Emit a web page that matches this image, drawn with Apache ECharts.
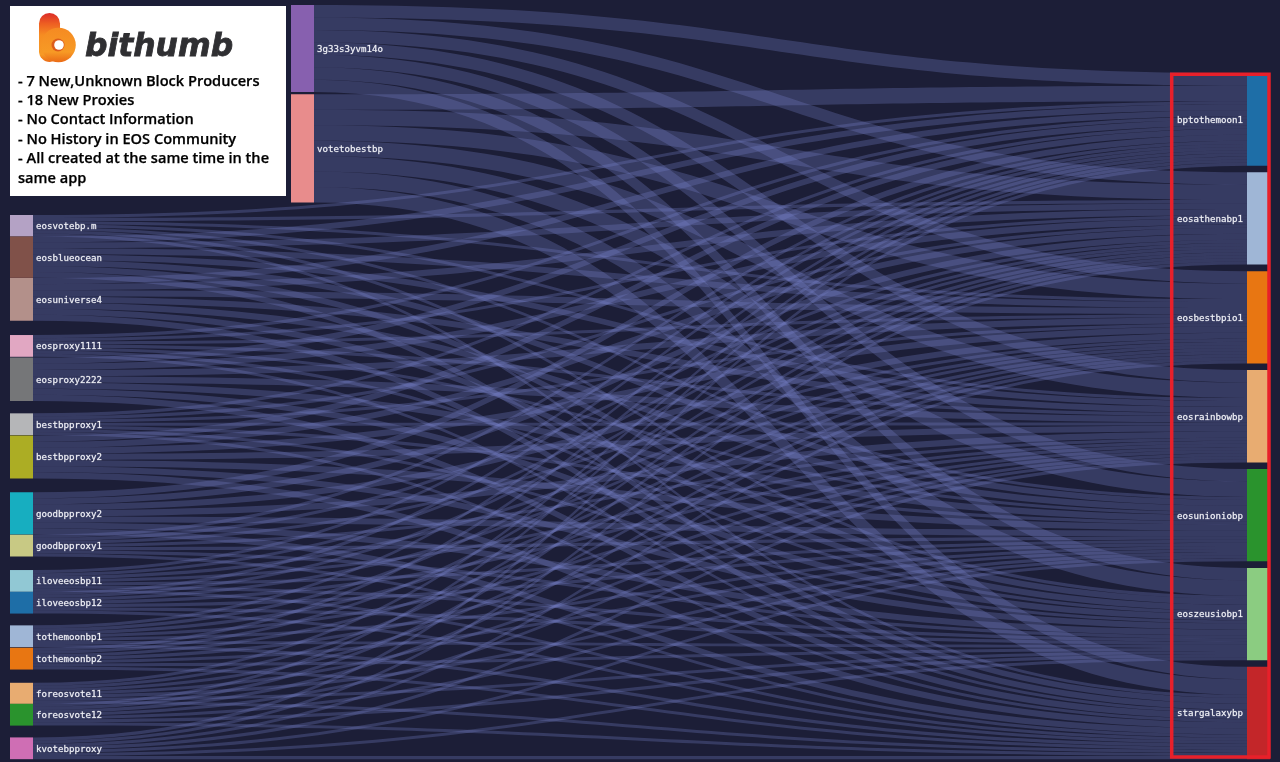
<!DOCTYPE html>
<html><head><meta charset="utf-8">
<style>html,body{margin:0;padding:0;background:#1c1e37}#c{width:1280px;height:762px}</style>
<script src="https://cdn.jsdelivr.net/npm/echarts@6/dist/echarts.min.js"></script>
</head><body><div id="c"></div>
<script>
// Proxies / voters and the stake each gives to every producer
const sources = ['3g33s3yvm14o','votetobestbp','eosvotebp.m','eosblueocean','eosuniverse4','eosproxy1111','eosproxy2222','bestbpproxy1','bestbpproxy2','goodbpproxy2','goodbpproxy1','iloveeosbp11','iloveeosbp12','tothemoonbp1','tothemoonbp2','foreosvote11','foreosvote12','kvotebpproxy'];
const stakePerProducer = [12.4,15.4,3.05,5.9,6.1,3.1,6.2,3.1,6.1,6.0,3.1,3.1,3.1,3.1,3.1,3.0,3.1,3.1];
const sourceColors = ['#9467bd','#ff9896','#c5b0d5','#8c564b','#c49c94','#f7b6d2','#7f7f7f','#c7c7c7','#bcbd22','#17becf','#dbdb8d','#9edae5','#1f77b4','#aec7e8','#ff7f0e','#ffbb78','#2ca02c','#e377c2'];
const producers = ['bptothemoon1','eosathenabp1','eosbestbpio1','eosrainbowbp','eosunioniobp','eoszeusiobp1','stargalaxybp'];
const producerColors = ['#1f77b4','#aec7e8','#ff7f0e','#ffbb78','#2ca02c','#98df8a','#d62728'];
const infoLines = ['- 7 New,Unknown Block Producers','- 18 New Proxies','- No Contact Information','- No History in EOS Community','- All created at the same time in the','same app'];

// Layout constants (pixels)
const W = 1280, H = 762, GAP = 6.8, SCALE = 1.003;
const sourceSpace = [5,2.24,12.6,0,0.17,14.17,0.74,12.27,0.44,13.97,0.27,13.54,0,11.8,0.64,13.24,0,11.8];
const producerTop = 73.3, producerSpace = 6.6;
const colA = 10, colB = 291, colC = 1247;

const nodes = [];
let y = 0;
sources.forEach((name, i) => {
  y += sourceSpace[i];
  nodes.push({name, localX: (i < 2 ? colB : colA) / W, localY: y / H,
    itemStyle: {color: sourceColors[i], opacity: 0.9}});
  y += stakePerProducer[i] * producers.length * SCALE;
});
const producerTotal = stakePerProducer.reduce((a, b) => a + b, 0);
y = producerTop;
producers.forEach((name, i) => {
  nodes.push({name, localX: colC / W, localY: y / H,
    itemStyle: {color: producerColors[i], opacity: 0.9},
    label: {position: 'left', distance: 4}});
  y += producerTotal * SCALE + producerSpace;
});
const links = [];
sources.forEach((s, i) => producers.forEach(p => links.push({source: s, target: p, value: stakePerProducer[i]})));

const infoTops = [82,101,120,139.5,159,179];
const graphic = [
  {type:'rect', z:10, shape:{x:10,y:6,width:276,height:190}, style:{fill:'#ffffff'}},
  {type:'rect', z:11, shape:{x:39,y:13,width:21,height:49,r:[10.5,10.5,15,16]}, style:{fill:new echarts.graphic.LinearGradient(0.4,0,0.4,1,[{offset:0,color:'#dc2c28'},{offset:0.22,color:'#ee5f22'},{offset:0.45,color:'#f68d22'},{offset:0.85,color:'#f79a25'},{offset:1,color:'#ea6a16'}])}},
  {type:'circle', z:11, shape:{cx:58.5,cy:45,r:17.3}, style:{fill:new echarts.graphic.LinearGradient(0,0,0,1,[{offset:0,color:'#f58a22'},{offset:0.7,color:'#f79a25'},{offset:1,color:'#ea6a16'}])}},
  {type:'circle', z:12, shape:{cx:58,cy:45,r:6.5}, style:{fill:'#dc5c1c'}},
  {type:'circle', z:13, shape:{cx:59,cy:45,r:4.8}, style:{fill:'#ffffff'}},
  {type:'text', z:11, x:85, y:63, style:{text:'bithumb', font:'italic bold 31.4px "DejaVu Sans"', verticalAlign:'bottom', fill:'#2f2f32', stroke:'#2f2f32', lineWidth:0.8}},
  {type:'rect', z:100, shape:{x:1171.7,y:74.2,width:97.3,height:682.8}, style:{fill:'none', stroke:'#e8202a', lineWidth:3.5}}
];
infoLines.forEach((t, i) => graphic.push({type:'text', z:11, x:18, y:infoTops[i], style:{text:t, font:'600 14.6px "Open Sans"', verticalAlign:'middle', fill:'#000000', stroke:'#000000', lineWidth:0.25}}));

const chart = echarts.init(document.getElementById('c'), null, {renderer:'canvas'});
chart.setOption({
  animation: false,
  backgroundColor: '#1c1e37',
  tooltip: {show:false},
  graphic: {elements: graphic},
  series: [{
    type: 'sankey', left:0, top:0, right:0, bottom:0,
    nodeWidth: 23, nodeGap: GAP, layoutIterations: 0, draggable: false,
    data: nodes, links,
    itemStyle: {borderWidth: 0},
    lineStyle: {color: '#7a82cc', opacity: 0.29, curveness: 0.5},
    label: {show:true, position:'right', distance:3, offset:[0,1], color:'#f4f5fa', fontFamily:'DejaVu Sans Mono', fontSize:9.15, textBorderColor:'rgba(244,245,250,0.45)', textBorderWidth:0.5},
    emphasis: {disabled:true}
  }]
});
</script></body></html>
